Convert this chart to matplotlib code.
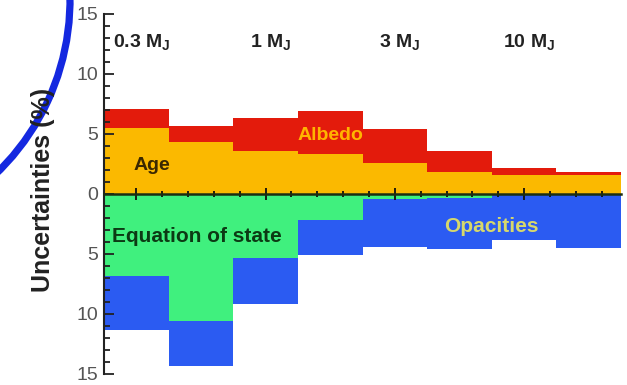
import numpy as np
import matplotlib
matplotlib.use("Agg")
from matplotlib import pyplot as plt
from matplotlib.patches import Arc
from matplotlib.ticker import MultipleLocator, FixedLocator, FuncFormatter

plt.rcParams['font.family'] = ['Liberation Sans', 'DejaVu Sans']
plt.rcParams['mathtext.fontset'] = 'custom'
plt.rcParams['mathtext.rm'] = 'Liberation Sans'
plt.rcParams['mathtext.bf'] = 'Liberation Sans:bold'

# mass bins (quarter decades), labelled every other bin
n_bins = 8
mass_labels = ["0.3", "1", "3", "10"]
mass_label_bins = [0, 2, 4, 6]

# uncertainty contributions in %, upper half
age = [5.5, 4.3, 3.55, 3.3, 2.55, 1.8, 1.6, 1.6]
albedo = [1.6, 1.4, 2.8, 3.6, 2.85, 1.75, 0.6, 0.2]
# lower half (plotted downward)
eos = [6.8, 10.6, 5.3, 2.2, 0.4, 0.35, 0.0, 0.0]
opacities = [4.5, 3.7, 3.9, 2.9, 4.0, 4.25, 3.8, 4.5]

c_age = '#fbb900'
c_albedo = '#e31b0c'
c_eos = '#40f07e'
c_opac = '#2b5bf2'

fig = plt.figure(figsize=(6.27, 3.85), dpi=100)
ax = fig.add_axes([104 / 627, 11 / 385, 517 / 627, 360 / 385])

x = np.arange(n_bins)
age = np.array(age)
eos = np.array(eos)
ax.bar(x, age, width=1, align='edge', color=c_age, linewidth=0)
ax.bar(x, albedo, bottom=age, width=1, align='edge', color=c_albedo, linewidth=0)
ax.bar(x, -eos, width=1, align='edge', color=c_eos, linewidth=0)
ax.bar(x, -np.array(opacities), bottom=-eos, width=1, align='edge', color=c_opac, linewidth=0)

ax.set_xlim(0, n_bins)
ax.set_ylim(-15, 15)

# axis frame: left spine + zero line
for s in ['top', 'right']:
    ax.spines[s].set_visible(False)
ax.spines['bottom'].set_position(('data', 0))
ax.spines['bottom'].set_color('#1c2e12')
ax.spines['bottom'].set_linewidth(1.8)
ax.spines['left'].set_color('#222222')
ax.spines['left'].set_linewidth(1.5)

major_x = [b + 0.5 for b in mass_label_bins]
ax.xaxis.set_major_locator(FixedLocator(major_x))
ax.xaxis.set_minor_locator(FixedLocator(np.arange(0.5, n_bins - 0.2, 0.4)))
ax.tick_params(axis='x', which='both', direction='inout', labelbottom=False,
               color='#111111', width=1.3)
ax.tick_params(axis='x', which='major', length=9)
ax.tick_params(axis='x', which='minor', length=5)

ax.yaxis.set_major_locator(MultipleLocator(5))
ax.yaxis.set_minor_locator(MultipleLocator(1))
ax.yaxis.set_major_formatter(FuncFormatter(lambda v, p: f"{abs(v):.0f}"))
ax.tick_params(axis='y', which='both', direction='in', color='#222222', width=1.3,
               labelsize=14, labelcolor='#555555', pad=4)
ax.tick_params(axis='y', which='major', length=7)
ax.tick_params(axis='y', which='minor', length=4)

# mass labels along the top
for b, m in zip(mass_label_bins, mass_labels):
    ax.text(b + 0.58, 12.6, m + r" M$_\mathbf{J}$", ha='center', va='center',
            fontsize=14, fontweight='bold', color='#222222')

# component names
ax.text(0.45, 2.4, "Age", fontsize=14, fontweight='bold', color='#3b2800', va='center')
ax.text(3.5, 4.9, "Albedo", fontsize=14, fontweight='bold', color='#ffb400',
        ha='center', va='center')
ax.text(0.12, -3.55, "Equation of state", fontsize=15, fontweight='bold',
        color='#0c3a14', va='center')
ax.text(6.0, -2.75, "Opacities", fontsize=15, fontweight='bold', color='#d6d86c',
        ha='center', va='center')

fig.text(43 / 627, 1 - 292 / 385, "Uncertainties (%)", rotation=90, ha='center',
         va='bottom', fontsize=18, fontweight='bold', color='#222222')

# blue circle mark over the corner
ov = fig.add_axes([0, 0, 1, 1])
ov.set_xlim(0, 627)
ov.set_ylim(385, 0)
ov.axis('off')
ov.add_patch(Arc((-171, 0), 482, 482, theta1=-10, theta2=60, color='#1428e0', lw=5.2))

fig.savefig('out.png', dpi=100)
